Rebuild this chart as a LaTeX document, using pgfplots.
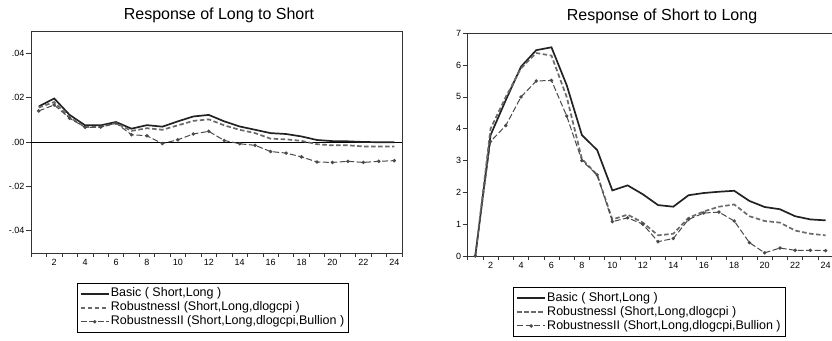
\documentclass[border=0pt]{standalone}
\usepackage{pgfplots}
\pgfplotsset{compat=1.18}
\usepackage{pgfplotstable}
\usepackage{fontspec}
\setmainfont{Liberation Sans}

\definecolor{cBasic}{HTML}{222222}
\definecolor{cRI}{HTML}{6A6A6A}
\definecolor{cRII}{HTML}{4A4A4A}

\pgfplotstableread{
x basic r1 r2
1 0.0160 0.0155 0.0140
2 0.0196 0.0180 0.0167
3 0.0122 0.0110 0.0107
4 0.0075 0.0068 0.0066
5 0.0075 0.0068 0.0067
6 0.0090 0.0085 0.0085
7 0.0060 0.0050 0.0033
8 0.0076 0.0062 0.0028
9 0.0069 0.0055 -0.0007
10 0.0093 0.0075 0.0010
11 0.0115 0.0095 0.0036
12 0.0122 0.0102 0.0048
13 0.0093 0.0075 0.0007
14 0.0070 0.0055 -0.0008
15 0.0055 0.0040 -0.0015
16 0.0040 0.0015 -0.0043
17 0.0036 0.0012 -0.0050
18 0.0025 0.0005 -0.0067
19 0.0009 -0.0010 -0.0090
20 0.0004 -0.0015 -0.0092
21 0.0003 -0.0015 -0.0087
22 0.0000 -0.0020 -0.0092
23 -0.0001 -0.0020 -0.0087
24 -0.0001 -0.0020 -0.0084
}\longshort

\pgfplotstableread{
x basic r1 r2
1 0 0 0
2 3.80 4.00 3.60
3 4.90 5.00 4.10
4 5.95 5.90 5.00
5 6.47 6.38 5.50
6 6.56 6.30 5.52
7 5.37 5.00 4.40
8 3.80 3.05 3.00
9 3.33 2.55 2.55
10 2.06 1.15 1.08
11 2.22 1.30 1.20
12 1.94 1.05 1.00
13 1.60 0.65 0.45
14 1.55 0.70 0.55
15 1.91 1.20 1.15
16 1.98 1.40 1.35
17 2.02 1.55 1.38
18 2.05 1.62 1.10
19 1.73 1.25 0.42
20 1.54 1.10 0.10
21 1.47 1.05 0.25
22 1.25 0.80 0.18
23 1.15 0.70 0.18
24 1.12 0.65 0.17
}\shortlong

\pgfplotsset{
  irf/.style={
    scale only axis,
    xmin=0.5, xmax=24.5,
    xtick={2,4,...,24},
    minor xtick={0.5,1.5,...,24.5},
    major x tick style={draw=none},
    tick align=outside,
    tick pos=left,
    major tick length=5pt,
    minor tick length=4pt,
    tick style={black!80, line width=0.6pt},
    axis line style={black!80, line width=0.8pt},
    scaled y ticks=false,
    /pgf/number format/assume math mode=true,
    ticklabel style={font=\fontsize{9}{11}\selectfont, inner sep=1.5pt},
    legend cell align=left,
    legend style={draw=black, line width=0.6pt, inner xsep=3pt, inner ysep=3.5pt,
      font=\fontsize{12.5}{13}\selectfont,
      nodes={inner ysep=0.6pt, inner xsep=1.2pt, text height=9.6pt, text depth=3.2pt},
      row sep=0pt},
    legend image code/.code={%
      \draw[mark repeat=2,mark phase=2,##1] plot coordinates {(0pt,0pt) (14pt,0pt) (28pt,0pt)};},
  },
  basicS/.style={cBasic, line width=1.7pt, mark=none},
  rIS/.style={cRI, line width=1.7pt, dash pattern=on 4.5pt off 2.5pt, mark=none},
  rIIS/.style={cRII, line width=1pt, dash pattern=on 6pt off 2.5pt, mark=*, mark size=1.2pt, mark options={solid}},
}

\begin{document}
\begin{tikzpicture}
\path[use as bounding box] (0pt,0pt) rectangle (832pt,340pt);

\node[font=\fontsize{16}{19}\selectfont] at (219pt,324.3pt) {Response of Long to Short};
\node[font=\fontsize{16}{19}\selectfont] at (662pt,323.3pt) {Response of Short to Long};

\begin{axis}[irf,
  at={(31pt,87pt)}, anchor=south west,
  width=371pt, height=222pt,
  ymin=-0.05, ymax=0.05,
  ytick={-0.04,-0.02,0,0.02,0.04},
  yticklabels={-.04,-.02,.00,.02,.04},
  legend style={at={(0.123,-0.135)}, anchor=north west},
]
\addplot[black, line width=0.6pt, forget plot] coordinates {(0.5,0) (24.5,0)};
\addplot[basicS] table[x=x,y=basic] {\longshort};
\addlegendentry{Basic ( Short,Long )}
\addplot[rIS] table[x=x,y=r1] {\longshort};
\addlegendentry{RobustnessI (Short,Long,dlogcpi )}
\addplot[rIIS] table[x=x,y=r2] {\longshort};
\addlegendentry{RobustnessII (Short,Long,dlogcpi,Bullion )}
\end{axis}

\begin{axis}[irf,
  at={(467.7pt,84pt)}, anchor=south west,
  width=365.5pt, height=222.7pt,
  ymin=0, ymax=7,
  ytick={0,1,...,7},
  legend style={at={(0.124,-0.14)}, anchor=north west},
]
\addplot[basicS] table[x=x,y=basic] {\shortlong};
\addlegendentry{Basic ( Short,Long )}
\addplot[rIS] table[x=x,y=r1] {\shortlong};
\addlegendentry{RobustnessI (Short,Long,dlogcpi )}
\addplot[rIIS] table[x=x,y=r2] {\shortlong};
\addlegendentry{RobustnessII (Short,Long,dlogcpi,Bullion )}
\end{axis}
\end{tikzpicture}
\end{document}
